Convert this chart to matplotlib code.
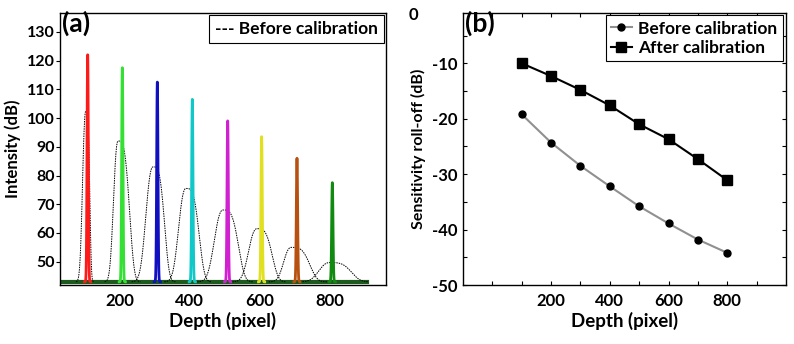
import numpy as np
import matplotlib.pyplot as plt

plt.rcParams['font.family'] = ['Lato', 'DejaVu Sans']
plt.rcParams['font.weight'] = 'bold'
plt.rcParams['axes.labelweight'] = 'bold'

# ---- panel (a): calibrated spikes (after) ----
spike_pos = [108, 207, 307, 407, 508, 605, 706, 807]
spike_height = [122, 117.5, 112.5, 106.5, 99, 93.5, 86, 77.5]
spike_colors = ['#ff1a1a', '#33e033', '#1010c0', '#10c8c8', '#d020d0',
                '#e0e020', '#b85010', '#108a10']

# ---- panel (a): broad peaks before calibration ----
before_pos = [103, 195, 295, 389, 495, 592, 690, 800]
before_height = [102.5, 92, 83, 75.5, 68, 61.5, 55, 49.7]
before_left = [22, 30, 47, 48, 57, 55, 50, 71]     # base half-width, left side
before_right = [18, 53, 53, 61, 71, 70, 85, 100]   # base half-width, right side
noise_floor = 43.0

# ---- panel (b): roll-off ----
depth = [100, 200, 300, 400, 500, 600, 700, 800]
rolloff_before = [-19.2, -24.3, -28.5, -32.2, -35.8, -38.9, -41.8, -44.2]
rolloff_after = [-10.0, -12.3, -14.8, -17.6, -21.0, -23.7, -27.3, -31.1]

fig = plt.figure(figsize=(7.94, 3.44), dpi=100)
ax1 = fig.add_axes([0.0756, 0.1715, 0.4104, 0.7895])
ax2 = fig.add_axes([0.583, 0.1715, 0.407, 0.7895])

x = np.arange(35, 910, 0.5)

# noise floor band
ax1.plot([35, 905], [noise_floor, noise_floor], color='#1d5a1d', lw=3, zorder=1)

pl, pr = 2.4, 3.6
for c, h, bl, br in zip(before_pos, before_height, before_left, before_right):
    d = x - c
    left = np.exp(-(np.abs(d) / (bl / 3.9 ** (1 / pl))) ** pl)
    right = np.exp(-(np.abs(d) / (br / 3.9 ** (1 / pr))) ** pr)
    y = noise_floor + (h - noise_floor) * np.where(d < 0, left, right)
    m = (d > -bl * 1.3) & (d < br * 1.2)
    ax1.plot(x[m], y[m], color='black', lw=0.7, ls=(0, (1.5, 1)), zorder=3)

for c, h, col in zip(spike_pos, spike_height, spike_colors):
    xs = np.arange(c - 9, c + 9, 0.25)
    ys = noise_floor + (h - noise_floor) * np.exp(-((xs - c) / 2.6) ** 2)
    ax1.plot(xs, ys, color=col, lw=2, zorder=4)

ax1.set_xlim(29, 960)
ax1.set_ylim(41.9, 136.4)
ax1.set_xticks([200, 400, 600, 800])
ax1.set_yticks([50, 60, 70, 80, 90, 100, 110, 120, 130])
ax1.tick_params(axis='x', length=0, labelsize=12, pad=6)
ax1.tick_params(axis='y', length=3, direction='out', labelsize=11.5, pad=1)
for lab in ax1.get_xticklabels() + ax1.get_yticklabels():
    lab.set_fontweight('bold')
ax1.set_xlabel('Depth (pixel)', fontsize=13.5, labelpad=2)
ax1.set_ylabel('Intensity (dB)', fontsize=12, labelpad=4)
ax1.text(0.005, 1.01, '(a)', transform=ax1.transAxes, fontsize=19,
         fontweight='bold', va='top', ha='left')
leg1 = ax1.legend(handles=[plt.Line2D([], [], lw=0)], labels=['--- Before calibration'],
                  loc='upper right', bbox_to_anchor=(0.995, 0.993), handlelength=0,
                  handletextpad=0, fancybox=False, framealpha=1, borderaxespad=0,
                  borderpad=0.35, prop={'weight': 'bold', 'size': 12.5})
leg1.get_frame().set_edgecolor('black')
leg1.get_frame().set_linewidth(0.8)

# ---- panel (b) ----
ax2.plot(depth, rolloff_before, color='#909090', lw=1.5, marker='o', ms=5,
         mfc='black', mec='black', label='Before calibration')
ax2.plot(depth, rolloff_after, color='black', lw=1.5, marker='s', ms=7,
         mfc='black', mec='black', label='After calibration')
ax2.set_xlim(-100, 1000)
ax2.set_ylim(-50, -1)
ax2.set_xticks(np.arange(0, 1000, 100))
ax2.set_xticklabels(['', '', '200', '', '400', '', '600', '', '800', ''])
ax2.set_yticks(np.arange(-50, -1, 5))
ax2.set_yticklabels([str(v) if v % 10 == 0 else '' for v in np.arange(-50, -1, 5)])
ax2.tick_params(direction='in', length=3, top=True, right=True, labelsize=12)
ax2.tick_params(axis='x', pad=6)
ax2.tick_params(axis='y', pad=4)
for lab in ax2.get_xticklabels() + ax2.get_yticklabels():
    lab.set_fontweight('bold')
ax2.text(-0.152, 0.994, '0', transform=ax2.transAxes, fontsize=12, fontweight='bold',
         ha='center', va='center')
ax2.set_xlabel('Depth (pixel)', fontsize=13.5, labelpad=2)
ax2.set_ylabel('Sensitivity roll-off (dB)', fontsize=11.5, labelpad=4)
ax2.text(0.005, 1.01, '(b)', transform=ax2.transAxes, fontsize=19,
         fontweight='bold', va='top', ha='left')
leg2 = ax2.legend(loc='upper right', bbox_to_anchor=(0.99, 0.993), fancybox=False,
                  framealpha=1, borderaxespad=0, handlelength=1.2, handletextpad=0.4,
                  labelspacing=0.2, borderpad=0.3, prop={'weight': 'bold', 'size': 12.5})
leg2.get_frame().set_edgecolor('black')
leg2.get_frame().set_linewidth(0.8)

for ax in (ax1, ax2):
    for s in ax.spines.values():
        s.set_linewidth(1.0)

fig.savefig('out.png', dpi=100)
